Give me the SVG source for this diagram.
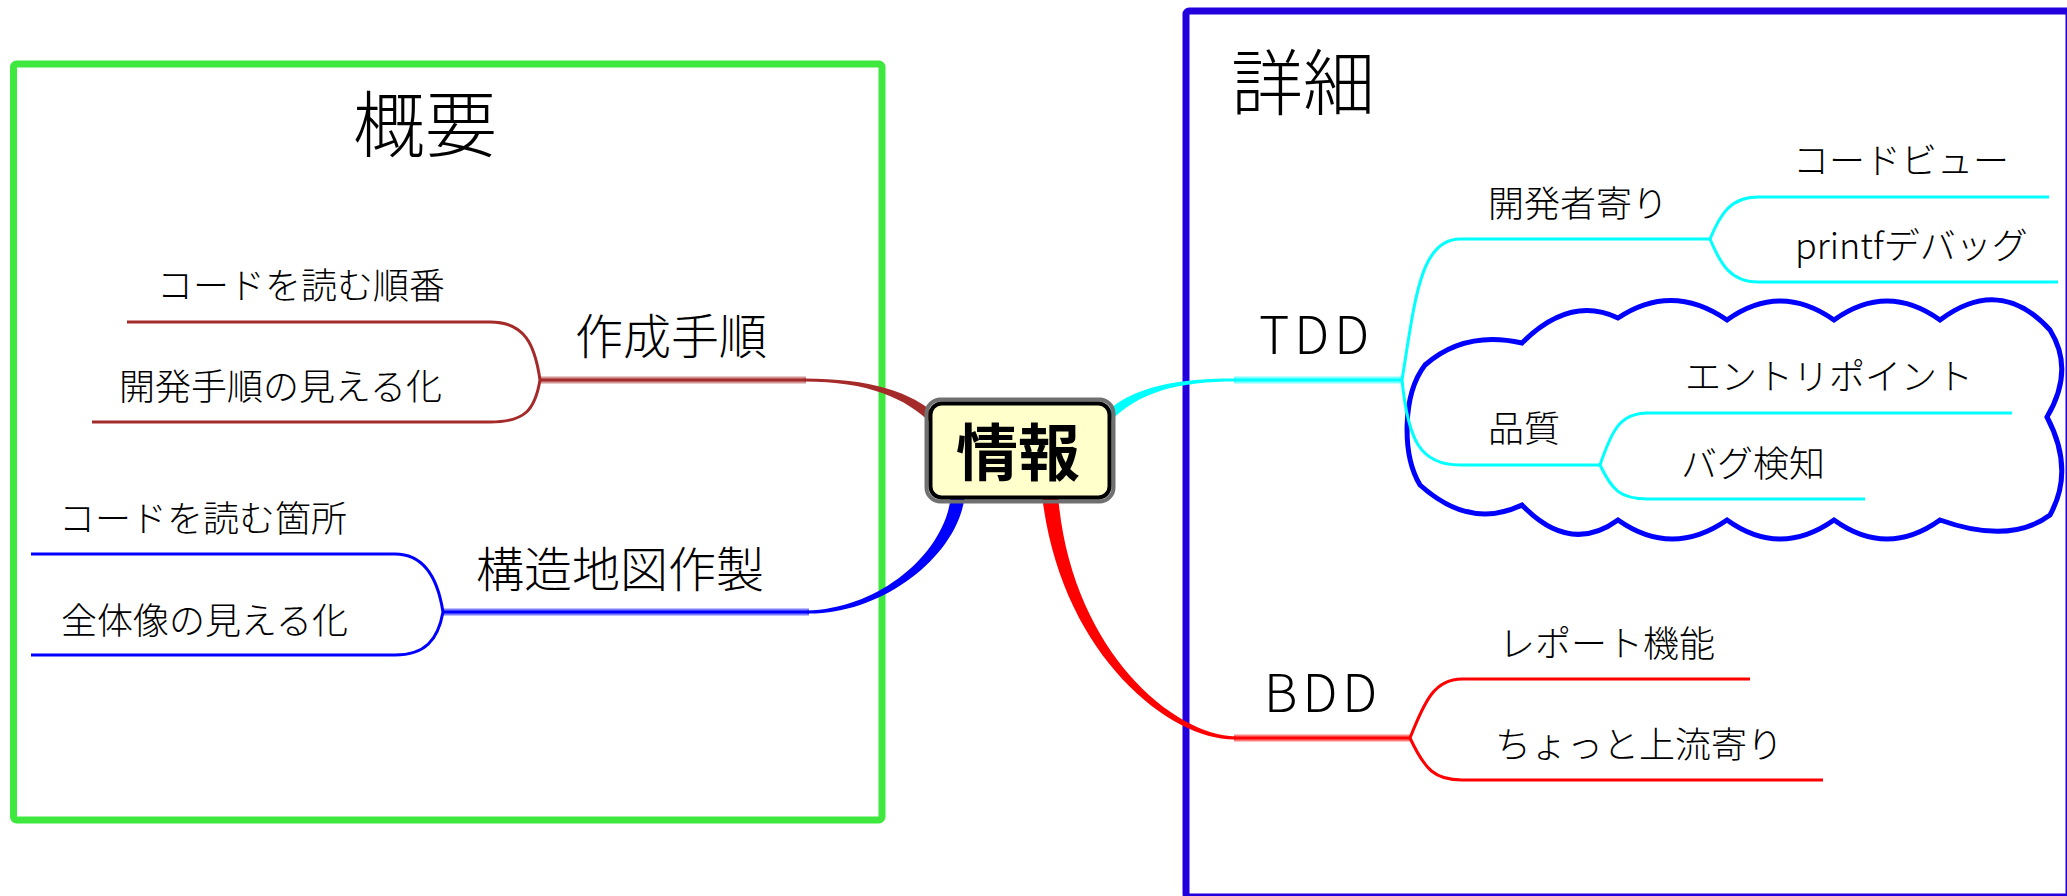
<svg xmlns="http://www.w3.org/2000/svg" width="2067" height="896" viewBox="0 0 2067 896">
<style>
.jp{font-family:"Noto Sans CJK JP","Noto Sans",sans-serif;font-weight:300;fill:#000}
.s36{font-size:36px}
.s48{font-size:48px}
.s72{font-size:72px}
.lat{font-family:"Noto Sans CJK JP","Liberation Sans",sans-serif;font-weight:300;font-size:52px;letter-spacing:5px;fill:#000}
.root{font-family:"Noto Sans CJK JP",sans-serif;font-size:62px;font-weight:bold;fill:#000}
.thin{fill:none;stroke-width:3;stroke-linecap:butt}
.halo{fill:none;stroke-width:7;stroke-opacity:0.5}
.core{fill:none;stroke-width:3}
.br{stroke:#a52a2a}
.bl{stroke:#0000ff}
.cy{stroke:#00ffff}
.rd{stroke:#ff0000}
</style>

<g id="frame-overview">
<rect x="13.5" y="64" width="868.5" height="756" rx="3" fill="none" stroke="#3fe83f" stroke-width="7"/>
<text class="jp s72" x="425" y="151" text-anchor="middle">概要</text>
</g>

<g id="frame-detail">
<rect x="1186" y="11" width="883" height="886" rx="3" fill="none" stroke="#2200dd" stroke-width="7"/>
<text class="jp s72" x="1231" y="109">詳細</text>
</g>

<g id="cloud-quality">
<path d="M1522,343 Q1570,295 1618,318 Q1672,282 1727,320 Q1780,282 1834,320 Q1887,282 1940,320 Q2000,275 2050,330 Q2075,370 2047,417 Q2075,470 2050,515 Q2010,545 1940,520 Q1887,558 1834,520 Q1780,558 1727,520 Q1672,558 1618,520 Q1570,555 1522,505 Q1470,530 1420,485 C1402,455 1402,395 1425,365 Q1465,330 1522,343 Z" fill="none" stroke="#0000ff" stroke-width="5" stroke-linejoin="miter"/>
</g>

<g id="connectors">
<path d="M938,416 C912,392 870,378.5 804,378.5 L804,381.5 C868,381.5 906,398 932,424 Z" fill="#a52a2a"/>
<path d="M965,495 C958,557 881,615 807,613.5 L807,610.5 C879,609 946,553 951,495 Z" fill="#0000ff"/>
<path d="M1108.6,423.4 C1138,391 1180,381.5 1236,381.5 L1236,378.5 C1180,378.5 1132,385 1101.4,416.6 Z" fill="#00ffff"/>
<path d="M1042,495 C1060,653 1169,741 1236,739.5 L1236,736.5 C1171,735 1070,647 1058,495 Z" fill="#ff0000"/>

<line class="halo br" x1="540" y1="380" x2="806" y2="380"/>
<line class="core br" x1="540" y1="380" x2="806" y2="380"/>
<line class="halo bl" x1="443" y1="612" x2="809" y2="612"/>
<line class="core bl" x1="443" y1="612" x2="809" y2="612"/>
<line class="halo cy" x1="1234" y1="380" x2="1402" y2="380"/>
<line class="core cy" x1="1234" y1="380" x2="1402" y2="380"/>
<line class="halo rd" x1="1234" y1="738" x2="1410" y2="738"/>
<line class="core rd" x1="1234" y1="738" x2="1410" y2="738"/>

<path class="thin br" d="M540,380 C535,345 525,322 490,322 L127,322"/>
<path class="thin br" d="M540,380 C535,410 525,422 490,422 L92,422"/>

<path class="thin bl" d="M443,612 C438,580 425,554 395,554 L31,554"/>
<path class="thin bl" d="M443,612 C438,640 425,655 395,655 L31,655"/>

<path class="thin cy" d="M1402,380 C1415,300 1420,239 1460,239 L1710,239"/>
<path class="thin cy" d="M1402,380 C1408,440 1420,465 1460,465 L1600,465"/>
<path class="thin cy" d="M1710,239 C1720,215 1730,197 1758,197 L2049,197"/>
<path class="thin cy" d="M1710,239 C1720,263 1730,282 1758,282 L2058,282"/>
<path class="thin cy" d="M1600,465 C1612,430 1620,413 1648,413 L2012,413"/>
<path class="thin cy" d="M1600,465 C1612,490 1620,499 1648,499 L1865,499"/>

<path class="thin rd" d="M1410,738 C1425,700 1435,679 1462,679 L1750,679"/>
<path class="thin rd" d="M1410,738 C1425,770 1435,780 1462,780 L1823,780"/>
</g>

<g id="node-root">
<rect x="926.5" y="399.5" width="187" height="102" rx="14" fill="none" stroke="#707070" stroke-width="4"/>
<rect x="930.5" y="403.5" width="179" height="94" rx="11" fill="#ffffcc" stroke="#000" stroke-width="4"/>
<text class="root" x="1018" y="476" text-anchor="middle">情報</text>
</g>

<g id="node-sakusei"><text class="jp s48" x="575" y="354">作成手順</text></g>
<g id="node-code-order"><text class="jp s36" x="157" y="299">コードを読む順番</text></g>
<g id="node-dev-visual"><text class="jp s36" x="119" y="400">開発手順の見える化</text></g>

<g id="node-kouzou"><text class="jp s48" x="476" y="587">構造地図作製</text></g>
<g id="node-code-place"><text class="jp s36" x="59" y="532">コードを読む箇所</text></g>
<g id="node-whole-visual"><text class="jp s36" x="61" y="634">全体像の見える化</text></g>

<g id="node-tdd"><text class="lat" x="1259" y="354">TDD</text></g>
<g id="node-dev-side"><text class="jp s36" x="1488" y="217">開発者寄り</text></g>
<g id="node-codeview"><text class="jp s36" x="1793" y="174">コードビュー</text></g>
<g id="node-printf"><text class="jp s36" x="1795" y="259">printfデバッグ</text></g>
<g id="node-quality"><text class="jp s36" x="1488" y="442">品質</text></g>
<g id="node-entry"><text class="jp s36" x="1685" y="390">エントリポイント</text></g>
<g id="node-bug"><text class="jp s36" x="1681" y="477">バグ検知</text></g>

<g id="node-bdd"><text class="lat" x="1264" y="712">BDD</text></g>
<g id="node-report"><text class="jp s36" x="1499" y="657">レポート機能</text></g>
<g id="node-upstream"><text class="jp s36" x="1495" y="758">ちょっと上流寄り</text></g>
</svg>
